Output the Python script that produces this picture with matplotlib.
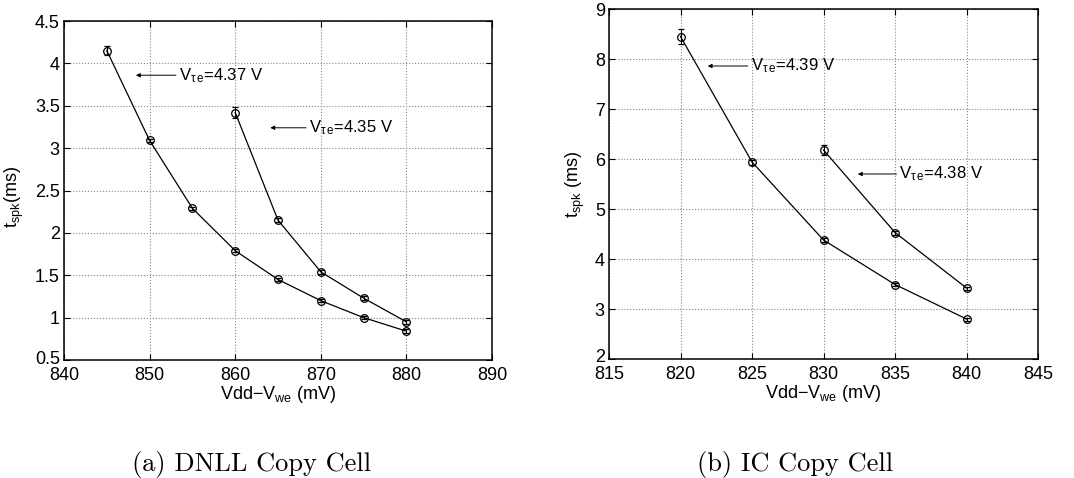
import matplotlib
matplotlib.use("Agg")
import matplotlib.pyplot as plt
from matplotlib.transforms import ScaledTranslation

# --- data ---
dnll_x1 = [845, 850, 855, 860, 865, 870, 875, 880]
dnll_y1 = [4.15, 3.09, 2.29, 1.79, 1.45, 1.20, 1.00, 0.84]
dnll_e1 = [0.05, 0.02, 0.02, 0.02, 0.02, 0.02, 0.02, 0.02]
dnll_x2 = [860, 865, 870, 875, 880]
dnll_y2 = [3.42, 2.15, 1.54, 1.23, 0.95]
dnll_e2 = [0.07, 0.02, 0.02, 0.02, 0.02]

ic_x1 = [820, 825, 830, 835, 840]
ic_y1 = [8.45, 5.94, 4.38, 3.49, 2.80]
ic_e1 = [0.15, 0.05, 0.04, 0.03, 0.03]
ic_x2 = [830, 835, 840]
ic_y2 = [6.18, 4.53, 3.42]
ic_e2 = [0.10, 0.04, 0.03]

dnll_xticks = [840, 850, 860, 870, 880, 890]
dnll_yticks = [0.5, 1, 1.5, 2, 2.5, 3, 3.5, 4, 4.5]
ic_xticks = [815, 820, 825, 830, 835, 840, 845]
ic_yticks = [2, 3, 4, 5, 6, 7, 8, 9]

plt.rcParams['font.family'] = ['Liberation Sans', 'DejaVu Sans']
plt.rcParams['mathtext.fontset'] = 'custom'
plt.rcParams['mathtext.rm'] = 'Liberation Sans'
plt.rcParams['mathtext.it'] = 'Liberation Sans'

FS = 13
W, H = 1074, 478
fig = plt.figure(figsize=(W / 100, H / 100), dpi=100)

def ax_rect(l, t, r, b):
    return [l / W, 1 - b / H, (r - l) / W, (b - t) / H]

ax1 = fig.add_axes(ax_rect(64, 21, 492, 360))
ax2 = fig.add_axes(ax_rect(609, 9, 1038, 359))

def style(ax, xt, yt, xpad):
    ax.set_xticks(xt)
    ax.set_yticks(yt)
    ax.set_xlim(xt[0], xt[-1])
    ax.set_ylim(yt[0], yt[-1])
    ax.set_xticklabels([f"{v:g}" for v in xt])
    ax.set_yticklabels([f"{v:g}" for v in yt])
    ax.tick_params(direction='in', length=4, width=0.8, labelsize=FS,
                   top=True, right=True)
    ax.tick_params(axis='x', pad=xpad)
    ax.tick_params(axis='y', pad=3)
    ax.grid(True, linestyle=':', color='#888888', linewidth=0.8)
    for s in ax.spines.values():
        s.set_linewidth(1.1)
    # lift the lowest y tick label a little, as in the reference corner
    lab = ax.get_yticklabels()[0]
    lab.set_transform(lab.get_transform() + ScaledTranslation(0, 3 / 100, fig.dpi_scale_trans))

def series(ax, x, y, e):
    ax.errorbar(x, y, yerr=e, color='black', linewidth=0.9, marker='o',
                markersize=5.5, markerfacecolor='none', markeredgewidth=0.9,
                capsize=2.5, elinewidth=0.8, capthick=0.8)

def note(ax, label, head_x, tail_x, y):
    ax.annotate(label, xy=(head_x, y), xytext=(tail_x, y),
                fontsize=12, va='center', ha='left',
                arrowprops=dict(arrowstyle='-|>', color='black', lw=0.7,
                                mutation_scale=6, shrinkA=0, shrinkB=0))

style(ax1, dnll_xticks, dnll_yticks, 5)
series(ax1, dnll_x1, dnll_y1, dnll_e1)
series(ax1, dnll_x2, dnll_y2, dnll_e2)
ax1.set_xlabel(r'Vdd$-$V$_{\mathrm{we}}$ (mV)', fontsize=FS, labelpad=0)
ax1.set_ylabel(r't$_{\mathrm{spk}}$(ms)', fontsize=FS)
ax1.yaxis.set_label_coords(-0.089, 0.48)
note(ax1, r'V$_{\tau\,\mathrm{e}}$=4.37 V', 848.4, 853.4, 3.86)
note(ax1, r'V$_{\tau\,\mathrm{e}}$=4.35 V', 864.1, 868.6, 3.24)

style(ax2, ic_xticks, ic_yticks, 5)
series(ax2, ic_x1, ic_y1, ic_e1)
series(ax2, ic_x2, ic_y2, ic_e2)
ax2.set_xlabel(r'Vdd$-$V$_{\mathrm{we}}$ (mV)', fontsize=FS, labelpad=0)
ax2.set_ylabel(r't$_{\mathrm{spk}}$ (ms)', fontsize=FS)
ax2.yaxis.set_label_coords(-0.052, 0.5)
note(ax2, r'V$_{\tau\,\mathrm{e}}$=4.39 V', 821.9, 824.9, 7.86)
note(ax2, r'V$_{\tau\,\mathrm{e}}$=4.38 V', 832.4, 835.3, 5.7)

fig.text(252 / W, 1 - 465 / H, '(a) DNLL Copy Cell', family=['cmr10', 'DejaVu Serif'],
         fontsize=19, ha='center', va='center')
fig.text(795 / W, 1 - 465 / H, '(b) IC Copy Cell', family=['cmr10', 'DejaVu Serif'],
         fontsize=19, ha='center', va='center')

fig.savefig('out.png', dpi=100)
